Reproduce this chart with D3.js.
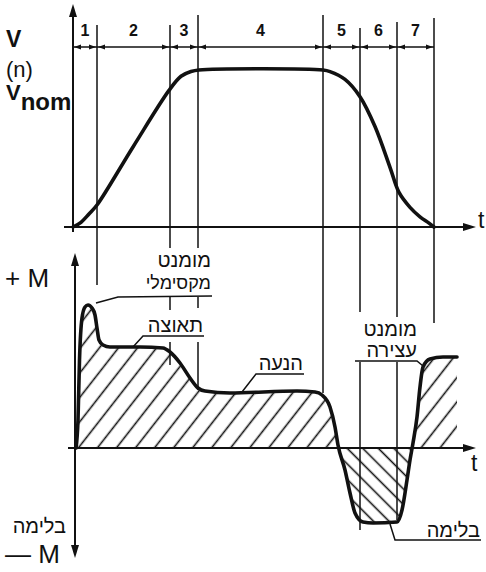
<!DOCTYPE html>
<html>
<head>
<meta charset="utf-8">
<script src="https://cdn.jsdelivr.net/npm/d3@7"></script>
<style>
  html, body { margin: 0; padding: 0; background: #fff; }
  svg { display: block; }
</style>
</head>
<body>
<div id="chart"></div>
<script>
// ── Data ─────────────────────────────────────────────────────
// phase boundaries on the time axis (arbitrary time units, 0..100)
var phaseBounds = [0, 6, 24.25, 31.25, 62.5, 71.75, 81, 90.25];
var phaseLabels = ["1", "2", "3", "4", "5", "6", "7"];

// speed V(n) / Vnom
var speedT = [0, 2, 4, 6, 15, 24, 27, 29.5, 31.5, 62.5, 64.25, 68, 71.75, 75.5, 79.25, 81.5, 84.25, 86.75, 89, 90.25];
var speedV = [0, 0.03, 0.083, 0.14, 0.51, 0.87, 0.96, 0.99, 1, 1, 0.99, 0.94, 0.83, 0.64, 0.38, 0.22, 0.125, 0.065, 0.025, 0];

// torque M (arbitrary units, + motoring / - braking)
var torqueT = [0.75, 1.25, 1.625, 2.25, 3, 3.75, 4.75, 5.5, 6, 6.5, 7.5, 9.25, 16.75, 22.5, 24.25, 26.75, 29.25, 31.25, 33, 39.25, 56, 60.5, 62.25, 64.25, 65.5, 66.25, 68, 69.25, 70.5, 72.5, 75, 81, 82.25, 83.5, 84.25, 85, 86, 86.75, 87.5, 89.25, 92.5, 96];
var torqueM = [0, 2.8, 8.8, 13, 14.1, 14.3, 14, 13.3, 12, 10.8, 10.3, 10.1, 10.1, 10, 9.6, 8.5, 7, 6, 5.7, 5.5, 5.7, 5.6, 5.3, 4.1, 2.1, 0.3, -2.2, -4.5, -6.5, -7.4, -7.5, -7.4, -6.2, -3.2, -1.2, 0.5, 3.1, 6.1, 8.1, 8.9, 9.1, 9.1];

(function () {
  "use strict";

  // ── Layout ─────────────────────────────────────────────────
  var W = 486, H = 572;
  var INK = "#111";
  var FONT = "'Liberation Sans', Arial, 'DejaVu Sans', sans-serif";

  var x = d3.scaleLinear().domain([0, 100]).range([73, 473]);
  var yV = d3.scaleLinear().domain([0, 1]).range([227, 70]);
  var yM = d3.scaleLinear().domain([0, 10]).range([448, 348]);

  var svg = d3.select("#chart").append("svg")
    .attr("width", W).attr("height", H)
    .attr("font-family", FONT);

  var defs = svg.append("defs");

  function hatch(id, angle, gap) {
    var p = defs.append("pattern")
      .attr("id", id)
      .attr("patternUnits", "userSpaceOnUse")
      .attr("width", gap).attr("height", gap)
      .attr("patternTransform", "rotate(" + angle + ")");
    p.append("line")
      .attr("x1", gap / 2).attr("y1", 0)
      .attr("x2", gap / 2).attr("y2", gap)
      .attr("stroke", INK).attr("stroke-width", 1.6);
  }
  hatch("hatchPos", 38, 15);
  hatch("hatchNeg", -45, 11);

  defs.append("clipPath").attr("id", "clipPos")
    .append("rect").attr("x", 0).attr("y", 0).attr("width", W).attr("height", yM(0));
  defs.append("clipPath").attr("id", "clipNeg")
    .append("rect").attr("x", 0).attr("y", yM(0)).attr("width", W).attr("height", H - yM(0));

  function arrowHead(g, tipX, tipY, dir, len, half) {
    var pts;
    if (dir === "up") pts = [[tipX, tipY], [tipX - half, tipY + len], [tipX + half, tipY + len]];
    if (dir === "down") pts = [[tipX, tipY], [tipX - half, tipY - len], [tipX + half, tipY - len]];
    if (dir === "right") pts = [[tipX, tipY], [tipX - len, tipY - half], [tipX - len, tipY + half]];
    if (dir === "left") pts = [[tipX, tipY], [tipX + len, tipY - half], [tipX + len, tipY + half]];
    g.append("path").attr("d", "M" + pts.join("L") + "Z").attr("fill", INK);
  }

  function seg(g, x1, y1, x2, y2, w) {
    g.append("line")
      .attr("x1", x1).attr("y1", y1).attr("x2", x2).attr("y2", y2)
      .attr("stroke", INK).attr("stroke-width", w || 1.5);
  }

  // ── Phase guide lines (broken around the text) ─────────────
  var guides = svg.append("g").attr("class", "guides");
  var guideSpans = [
    [],
    [[25, 285]],
    [[25, 248], [297, 310], [342, 365]],
    [[15, 248], [297, 308], [342, 390]],
    [[15, 393]],
    [[28, 312], [362, 530]],
    [[22, 317], [362, 520]],
    [[18, 323]]
  ];
  phaseBounds.forEach(function (t, i) {
    guideSpans[i].forEach(function (s) {
      seg(guides, x(t), s[0], x(t), s[1], 1.5);
    });
  });

  // ── Phase dimension line ───────────────────────────────────
  var dim = svg.append("g").attr("class", "dim");
  var dimY = 47;
  seg(dim, x(phaseBounds[0]), dimY, x(phaseBounds[phaseBounds.length - 1]), dimY, 1.5);
  for (var i = 0; i < phaseLabels.length; i++) {
    var a = x(phaseBounds[i]), b = x(phaseBounds[i + 1]);
    arrowHead(dim, a + 1, dimY, "left", 7, 2.6);
    arrowHead(dim, b - 1, dimY, "right", 7, 2.6);
    dim.append("text")
      .attr("x", (a + b) / 2).attr("y", 36)
      .attr("text-anchor", "middle")
      .attr("font-size", 16).attr("font-weight", "bold")
      .attr("fill", INK)
      .text(phaseLabels[i]);
  }

  // ── Top chart: speed ───────────────────────────────────────
  var speedG = svg.append("g").attr("class", "speed");
  seg(speedG, x(0), 12, x(0), 232, 2);
  arrowHead(speedG, x(0), 4, "up", 13, 4);
  seg(speedG, 64, yV(0), 466, yV(0), 2);
  arrowHead(speedG, 476, yV(0), "right", 13, 4);
  speedG.append("text").attr("x", 478).attr("y", 228)
    .attr("font-size", 23).attr("fill", INK).text("t");

  var vLabel = speedG.append("g").attr("fill", INK);
  vLabel.append("text").attr("x", 6).attr("y", 47).attr("font-size", 23)
    .attr("font-weight", "bold").text("V");
  vLabel.append("text").attr("x", 6).attr("y", 77).attr("font-size", 22).text("(n)");
  var vn = vLabel.append("text").attr("x", 6).attr("y", 100)
    .attr("font-size", 22).attr("font-weight", "bold");
  vn.append("tspan").text("V");
  vn.append("tspan").attr("dy", 10).attr("font-size", 24).text("nom");

  var speedPts = speedT.map(function (t, k) { return [t, speedV[k]]; });
  speedG.append("path")
    .datum(speedPts)
    .attr("fill", "none").attr("stroke", INK).attr("stroke-width", 3.6)
    .attr("stroke-linecap", "round")
    .attr("d", d3.line()
      .x(function (d) { return x(d[0]); })
      .y(function (d) { return yV(d[1]); })
      .curve(d3.curveCatmullRom.alpha(0.5)));

  // ── Bottom chart: torque ───────────────────────────────────
  var torqueG = svg.append("g").attr("class", "torque");
  var torquePts = torqueT.map(function (t, k) { return [t, torqueM[k]]; });

  var area = d3.area()
    .x(function (d) { return x(d[0]); })
    .y0(yM(0))
    .y1(function (d) { return yM(d[1]); })
    .curve(d3.curveMonotoneX);

  torqueG.append("path").datum(torquePts).attr("d", area)
    .attr("fill", "url(#hatchPos)").attr("clip-path", "url(#clipPos)");
  torqueG.append("path").datum(torquePts).attr("d", area)
    .attr("fill", "url(#hatchNeg)").attr("clip-path", "url(#clipNeg)");

  var axX = 75;
  seg(torqueG, axX, 262, axX, 548, 2);
  arrowHead(torqueG, axX, 253, "up", 13, 4);
  arrowHead(torqueG, axX, 558, "down", 13, 4);
  seg(torqueG, 68, yM(0), 466, yM(0), 2);
  arrowHead(torqueG, 476, yM(0), "right", 13, 4);
  torqueG.append("text").attr("x", 471).attr("y", 471)
    .attr("font-size", 23).attr("fill", INK).text("t");

  torqueG.append("path").datum(torquePts)
    .attr("fill", "none").attr("stroke", INK).attr("stroke-width", 3.6)
    .attr("stroke-linejoin", "round").attr("stroke-linecap", "round")
    .attr("d", d3.line()
      .x(function (d) { return x(d[0]); })
      .y(function (d) { return yM(d[1]); })
      .curve(d3.curveMonotoneX));

  torqueG.append("text").attr("x", 5).attr("y", 287).attr("font-size", 26).attr("fill", INK).text("+ M");
  torqueG.append("text").attr("x", 5).attr("y", 563).attr("font-size", 26).attr("fill", INK).text("— M");

  // ── Hebrew annotations ─────────────────────────────────────
  var notes = svg.append("g").attr("fill", INK).attr("font-size", 20);
  function heb(txt, xr, yb, size) {
    var t = notes.append("text").attr("x", xr).attr("y", yb)
      .attr("text-anchor", "end").text(txt);
    if (size) t.attr("font-size", size);
  }
  heb("מומנט", 211, 267);
  heb("מקסימלי", 211, 289, 18);
  heb("תאוצה", 203, 332);
  heb("הנעה", 303, 370);
  heb("מומנט", 417, 336);
  heb("עצירה", 417, 357);
  heb("בלימה", 480, 537);
  heb("בלימה", 66, 533);

  var lead = svg.append("g").attr("fill", "none").attr("stroke", INK).attr("stroke-width", 1.5);
  function poly(pts) { lead.append("path").attr("d", "M" + pts.join("L")); }
  poly([[96, 303], [118, 297], [212, 296]]);
  poly([[133, 347], [143, 336], [204, 336]]);
  poly([[242, 392], [256, 374], [304, 374]]);
  poly([[355, 361], [417, 361], [423, 366]]);
  poly([[390, 524], [395, 540], [481, 540]]);
})();
</script>
</body>
</html>
